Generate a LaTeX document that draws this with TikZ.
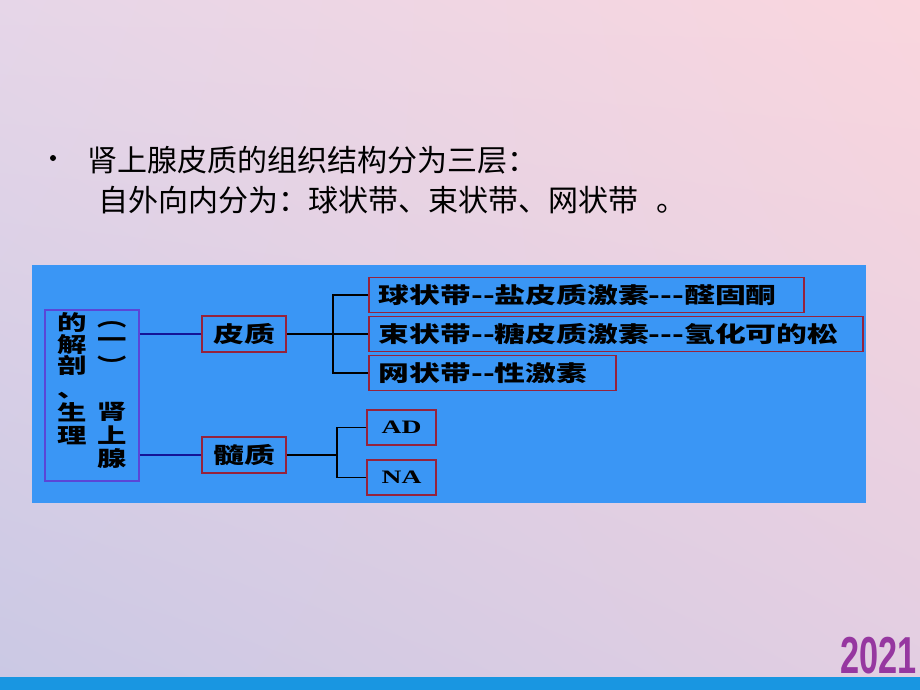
\documentclass[tikz,border=0pt]{standalone}
\usepackage{fontspec}
\usetikzlibrary{positioning,calc,shadings}
\newfontfamily\titlefont{Noto Sans CJK SC}
\newfontfamily\boxfont{Noto Sans CJK SC}[FakeStretch=1.4]
\newfontfamily\boxlatin{Liberation Serif}[FakeStretch=1.45]
\newfontfamily\yearfont{Liberation Sans}[FakeStretch=0.66]
\definecolor{bgupleft}{RGB}{230,214,232}
\definecolor{bglowleft}{RGB}{202,200,228}
\definecolor{bgupright}{RGB}{250,214,222}
\definecolor{bglowright}{RGB}{226,206,226}
\definecolor{panelblue}{RGB}{58,150,245}
\definecolor{boxred}{RGB}{150,35,60}
\definecolor{boxpurple}{RGB}{90,70,215}
\definecolor{linkblue}{RGB}{20,20,150}
\definecolor{bandblue}{RGB}{25,150,225}
\definecolor{yearpurple}{RGB}{150,55,160}
\tikzset{
    % Define standard node styles
    titletext/.style={
        anchor=base west, inner sep=0pt,
        font=\titlefont\fontsize{30}{30}\selectfont
    },
    mainbox/.style={
        rectangle, draw=boxpurple, line width=1.8pt,
        minimum width=94pt, minimum height=171pt, inner sep=0pt
    },
    vchar/.style={
        inner sep=0pt, text height=14pt, text depth=2pt,
        font=\boxfont\bfseries\fontsize{21}{21}\selectfont
    },
    partbox/.style={
        rectangle, draw=boxred, line width=1.8pt,
        minimum width=84pt, minimum height=36pt, inner sep=0pt,
        font=\boxfont\bfseries\fontsize{22}{22}\selectfont
    },
    zonebox/.style={
        rectangle, draw=boxred, line width=1.8pt, anchor=west,
        text width=#1, align=left, inner xsep=10pt, inner ysep=0pt,
        minimum height=35pt,
        font=\boxfont\bfseries\fontsize{22}{22}\selectfont
    },
    hormonebox/.style={
        rectangle, draw=boxred, line width=1.8pt,
        minimum width=69pt, minimum height=35pt, inner sep=0pt,
        font=\boxlatin\bfseries\fontsize{19}{19}\selectfont
    },
    linkline/.style={
        draw=linkblue, line width=1.8pt
    },
    branchline/.style={
        draw=black, line width=1.8pt
    }
}
\begin{document}
\begin{tikzpicture}[x=1pt,y=-1pt]

% Slide background
\useasboundingbox (0,0) rectangle (920,690);
\shade[upper left=bgupleft, upper right=bgupright,
       lower left=bglowleft, lower right=bglowright] (0,0) rectangle (920,690);
\fill[bandblue] (0,677) rectangle (920,690);
\node[anchor=base east, inner sep=0pt, text=yearpurple,
      font=\yearfont\bfseries\fontsize{52}{52}\selectfont] (year) at (917,673) {2021};

% Bullet text
\node[circle, fill=black, minimum size=6pt, inner sep=0pt] (bullet) at (53,158) {};
\node[titletext] (line_one) at (87,171) {肾上腺皮质的组织结构分为三层：};
\node[titletext] (line_two) at (98,211) {自外向内分为：球状带、束状带、网状带\hspace{18pt}。};

% Blue panel
\fill[panelblue] (32,265) rectangle (866,503);

% Left title box
\node[mainbox] (main) at (92,395.5) {};
\foreach \ch/\yy [count=\i] in {︵/320,一/341,︶/367,肾/413,上/437,腺/460}
    \node[vchar] (right_\i) at (112,\yy) {\ch};
\foreach \ch/\yy [count=\i] in {的/324,解/346,剖/367,、/391,生/414,理/437}
    \node[vchar] (left_\i) at (72,\yy) {\ch};

% Cortex and medulla
\node[partbox] (cortex) at (244,334) {皮质};
\node[partbox] (medulla) at (244,455) {髓质};

% Zones of the cortex
\node[zonebox=415pt] (zona_g) at (368,295) {球状带--盐皮质激素---醛固酮};
\node[zonebox=474pt] (zona_f) at (368,334) {束状带--糖皮质激素---氢化可的松};
\node[zonebox=227pt] (zona_r) at (368,373) {网状带--性激素};

% Medulla hormones
\node[hormonebox] (ad) at (401.5,427.5) {AD};
\node[hormonebox] (na) at (401.5,477.5) {NA};

% Connectors
\coordinate (hub_top) at (333,334);
\coordinate (hub_bot) at (337,455);
\draw[linkline] (main.east |- cortex.west) -- (cortex.west);
\draw[linkline] (main.east |- medulla.west) -- (medulla.west);
\draw[branchline] (cortex.east) -- (hub_top);
\draw[branchline] (zona_g.west) -| (hub_top) |- (zona_r.west);
\draw[branchline] (hub_top) -- (zona_f.west);
\draw[branchline] (medulla.east) -- (hub_bot);
\draw[branchline] (ad.west) -| (hub_bot) |- (na.west);

\end{tikzpicture}
\end{document}
